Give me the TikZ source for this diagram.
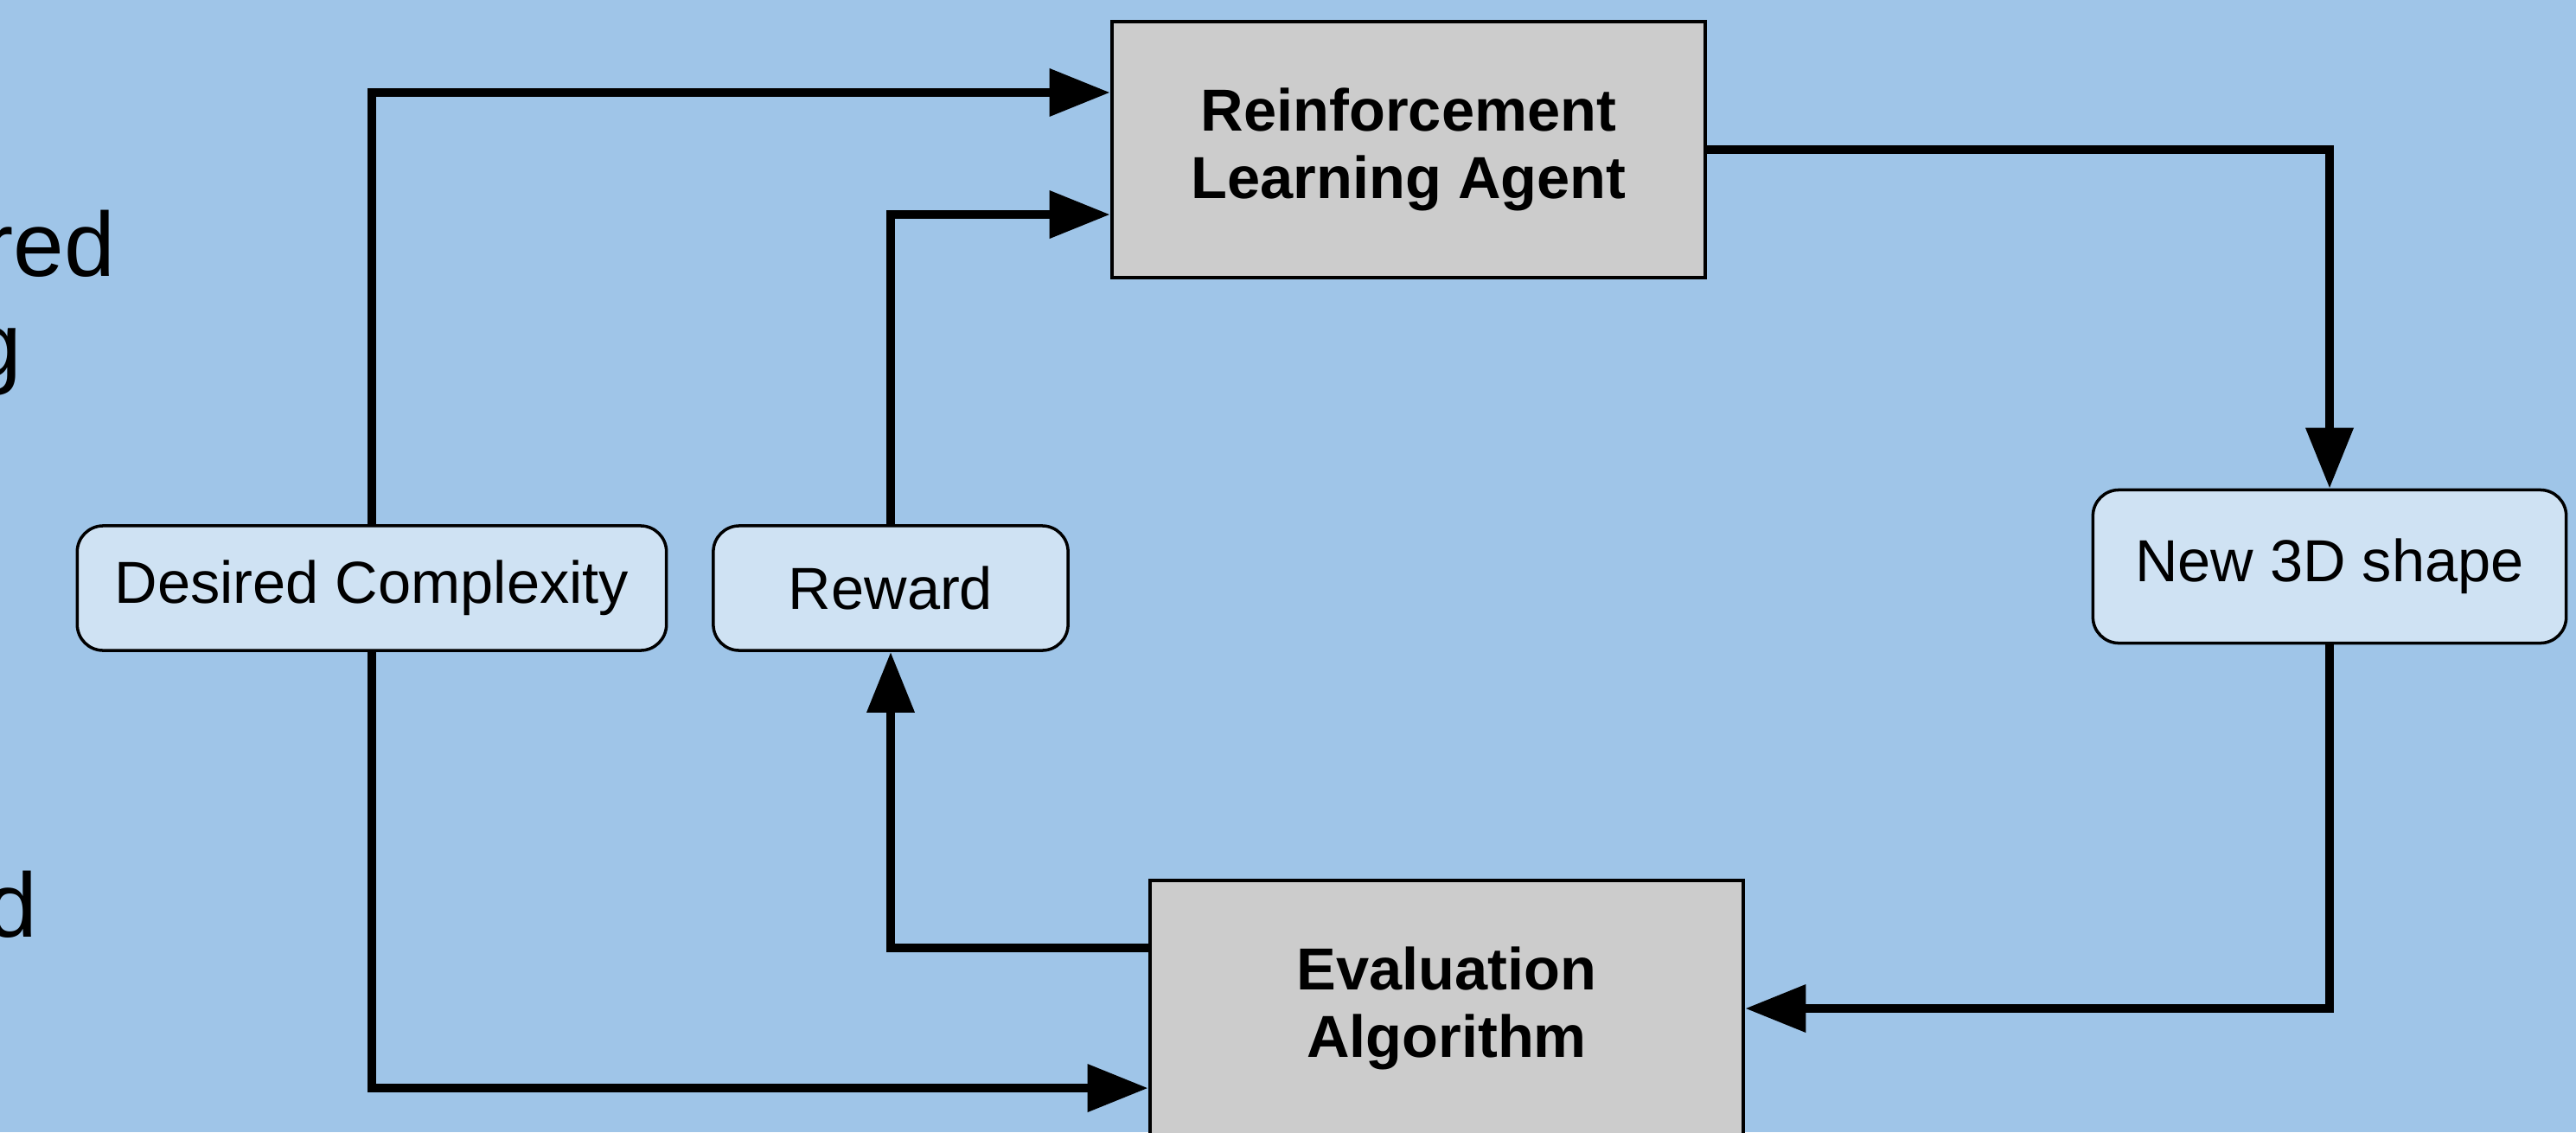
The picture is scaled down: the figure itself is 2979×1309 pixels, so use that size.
\documentclass[tikz,border=0pt]{standalone}
\usepackage{fontspec}
\setmainfont{Liberation Sans}
\usepackage{tikz}
\usetikzlibrary{arrows.meta, positioning}

\definecolor{bgblue}{HTML}{9FC5E8}
\definecolor{boxgray}{HTML}{CCCCCC}
\definecolor{tagblue}{HTML}{CFE2F3}

\begin{document}
\begin{tikzpicture}[x=0.01cm, y=-0.01cm, ->, >={Triangle[length=7mm,width=5.3mm]},
    line width=2.9pt,
    block/.style={draw, fill=boxgray, line width=1.2pt, align=center,
      font=\fontsize{19.5}{22}\selectfont\bfseries,
      minimum width=6.86cm, minimum height=2.96cm},
    tag/.style={draw, fill=tagblue, line width=1pt, rounded corners=0.3cm,
      font=\fontsize{19.5}{22}\selectfont, minimum height=1.44cm}]
  \fill[-, bgblue] (0,0) rectangle (2979,1309);
  \useasboundingbox (0,0) rectangle (2979,1309);

  % cut-off text at the left edge
  \node[anchor=base east, font=\fontsize{30}{34}\selectfont] (t1) at (150,319) {red};
  \node[anchor=base east, font=\fontsize{30}{34}\selectfont] (t2) at (42,435) {g};
  \node[anchor=base east, font=\fontsize{30}{34}\selectfont] (t3) at (60,1083) {d};

  \node[block] (agent) at (1629,173) {Reinforcement\\Learning Agent};
  \node[block] (eval) at (1673,1166) {Evaluation\\Algorithm};
  \node[tag, minimum width=6.81cm] (desired) at (430,680) {Desired Complexity};
  \node[tag, minimum width=4.10cm] (reward) at (1030,680) {Reward};
  \node[tag, minimum width=5.47cm, minimum height=1.77cm] (shape) at (2694,655) {New 3D shape};

  \draw (desired.north) |- ([yshift=0.66cm]agent.west);
  \draw (reward.north) |- ([yshift=-0.75cm]agent.west);
  \draw (agent.east) -| (shape.north);
  \draw (shape.south) |- (eval.east);
  \draw ([yshift=0.7cm]eval.west) -| (reward.south);
  \draw (desired.south) |- ([yshift=-0.92cm]eval.west);
\end{tikzpicture}
\end{document}
